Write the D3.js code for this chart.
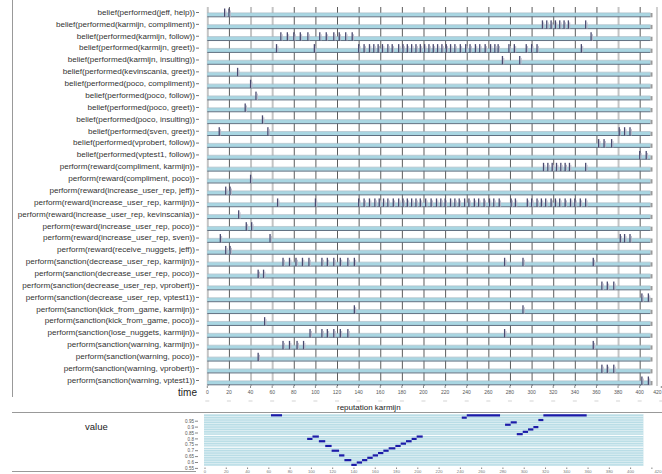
<!DOCTYPE html>
<html><head><meta charset="utf-8">
<script src="https://cdn.jsdelivr.net/npm/d3@7"></script>
<style>body{margin:0;background:#fff}svg{display:block;font-family:"Liberation Sans",Arial,sans-serif}</style>
</head><body>
<script>
const rowLabels = [
 "belief(performed(jeff, help))","belief(performed(karmijn, compliment))","belief(performed(karmijn, follow))",
 "belief(performed(karmijn, greet))","belief(performed(karmijn, insulting))","belief(performed(kevinscania, greet))",
 "belief(performed(poco, compliment))","belief(performed(poco, follow))","belief(performed(poco, greet))",
 "belief(performed(poco, insulting))","belief(performed(sven, greet))","belief(performed(vprobert, follow))",
 "belief(performed(vptest1, follow))","perform(reward(compliment, karmijn))","perform(reward(compliment, poco))",
 "perform(reward(increase_user_rep, jeff))","perform(reward(increase_user_rep, karmijn))",
 "perform(reward(increase_user_rep, kevinscania))","perform(reward(increase_user_rep, poco))",
 "perform(reward(increase_user_rep, sven))","perform(reward(receive_nuggets, jeff))",
 "perform(sanction(decrease_user_rep, karmijn))","perform(sanction(decrease_user_rep, poco))",
 "perform(sanction(decrease_user_rep, vprobert))","perform(sanction(decrease_user_rep, vptest1))",
 "perform(sanction(kick_from_game, karmijn))","perform(sanction(kick_from_game, poco))",
 "perform(sanction(lose_nuggets, karmijn))","perform(sanction(warning, karmijn))",
 "perform(sanction(warning, poco))","perform(sanction(warning, vprobert))","perform(sanction(warning, vptest1))"
];
const rowEvents = [
 [16,20],
 [310,314,318,322,326,330,334,350],
 [68,74,80,86,93,104,110,117,122,128,134,355],
 [64,99,140,145,150,154,158,162,167,171,177,181,185,189,193,197,201,205,209,213,217,221,225,229,234,239,243,248,252,257,262,266,269,279,284,295,300,305,346],
 [273,289],
 [28],
 [40],
 [45],
 [35],
 [51],
 [11,56,381,386,391],
 [362,367,374],
 [400,406],
 [311,315,319,323,327,331,335,350],
 [40],
 [17,21],
 [65,100,140,145,150,155,159,163,167,172,177,181,185,189,193,197,202,207,212,216,220,225,229,233,238,242,247,251,256,261,265,270,281,285,296,300,305,309,313,318,322,326,331,336,340,345,350],
 [29],
 [36,41],
 [12,58,382,386,391],
 [17,21],
 [70,76,82,88,94,106,111,117,123,130,136,275,292,357],
 [47,52],
 [365,370,376],
 [402,408],
 [136,292],
 [53],
 [95,106,111,117,123,130,275],
 [70,76,83,89,357],
 [47],
 [365,370,376],
 [402,408]
];
const timeTicks = d3.range(0, 421, 20);
const repStart = [62,96,101,107,113,119,126,131,137.5,142.6,147.6,152.5,157.6,162.6,167.6,172.6,178.9,183.9,188.9,194.2,198.9,241.3,246,282,287.3,293,298.6,303.6,308.6,313.3,318];
const repEnd   = [72.4,101,107,113,119,126,131,137.5,142.6,147.6,152.5,157.6,162.6,167.6,172.6,178.9,183.9,188.9,194.2,198.9,204.6,246,277.3,287.3,293,298.6,303.6,308.6,313.3,318,358.7];
const repValue = [1.0,0.80,0.82,0.78,0.74,0.70,0.66,0.62,0.58,0.60,0.62,0.64,0.66,0.68,0.70,0.72,0.74,0.76,0.78,0.80,0.82,0.98,1.0,0.92,0.94,0.84,0.86,0.88,0.90,0.96,1.0];
const repTicks = [0.95,0.9,0.85,0.8,0.75,0.7,0.65,0.6,0.55];

const W = 662, H = 474;
const svg = d3.select("body").append("svg").attr("width", W).attr("height", H);

// ---------- top timeline ----------
const x = d3.scaleLinear().domain([0, 420]).range([207.3, 661.3]);
const y = d3.scalePoint().domain(rowLabels).range([12, 380]);
const gTop = svg.append("g");

svg.append("line").attr("x1", 12.5).attr("x2", 12.5).attr("y1", 0).attr("y2", 397).attr("stroke", "#999");

const lightLines = new Set([0, 40, 60, 380]);
gTop.selectAll("line.vg").data(timeTicks.filter(d => d <= 400)).join("line")
  .attr("class", "vg")
  .attr("x1", d => x(d) + 0.5).attr("x2", d => x(d) + 0.5)
  .attr("y1", 7).attr("y2", 386)
  .attr("stroke", d => lightLines.has(d) ? "#c4c4c4" : "#5c5c5c")
  .attr("stroke-width", d => lightLines.has(d) ? 2 : 1);
gTop.append("line").attr("x1", x(416)).attr("x2", x(416)).attr("y1", 7).attr("y2", 386)
  .attr("stroke", "#d0d0d0").attr("stroke-width", 2);

const rows = gTop.selectAll("g.row").data(rowLabels).join("g").attr("class", "row")
  .attr("transform", d => `translate(0,${y(d)})`);
rows.append("rect").attr("x", x(0)).attr("y", 1).attr("width", x(410) - x(0)).attr("height", 3.5)
  .attr("fill", "#a9d6e2");
rows.append("line").attr("x1", x(0)).attr("x2", x(410)).attr("y1", 0.8).attr("y2", 0.8)
  .attr("stroke", "#9fb3c0").attr("stroke-width", 0.6);
rows.append("line").attr("x1", x(0)).attr("x2", x(410)).attr("y1", 4.8).attr("y2", 4.8)
  .attr("stroke", "#5f6f80").attr("stroke-width", 1);
rows.append("rect").attr("x", x(410)).attr("y", 1).attr("width", 2).attr("height", 4.3).attr("fill", "#9a9a9a");

rows.append("text").attr("x", 195).attr("y", 0).attr("dy", "0.35em").attr("text-anchor", "end")
  .attr("font-size", 8.1).attr("fill", "#333").text(d => d);
rows.append("line").attr("x1", 196).attr("x2", 199).attr("y1", 0.5).attr("y2", 0.5).attr("stroke", "#777");

rows.each(function(label, i) {
  const g = d3.select(this);
  g.selectAll("rect.ev").data(rowEvents[i]).join("rect").attr("class", "ev")
    .attr("x", d => x(d) - 0.6).attr("y", -3.5).attr("width", 1.3).attr("height", 8.3)
    .attr("fill", "#4a4a70");
  g.selectAll("line.ev2").data(rowEvents[i]).join("line").attr("class", "ev2")
    .attr("x1", d => x(d) + 1.4).attr("x2", d => x(d) + 1.4).attr("y1", -1.5).attr("y2", 4.8)
    .attr("stroke", "#b8b8c8").attr("stroke-width", 1);
});

svg.append("text").attr("x", 197).attr("y", 392).attr("dy", "0.35em").attr("text-anchor", "end")
  .attr("font-size", 10).attr("fill", "#222").text("time");
const axisT = svg.append("g").attr("transform", "translate(0,386)");
axisT.selectAll("line").data(timeTicks).join("line")
  .attr("x1", d => x(d)).attr("x2", d => x(d)).attr("y1", 0).attr("y2", 2).attr("stroke", "#888");
axisT.selectAll("text").data(timeTicks).join("text")
  .attr("x", d => d === 420 ? 661.5 : x(d)).attr("y", 6).attr("dy", "0.35em")
  .attr("text-anchor", d => d === 420 ? "end" : "middle")
  .attr("font-size", 5).attr("fill", "#555").text(d => d);
axisT.selectAll("line.dash").data(timeTicks).join("line").attr("class", "dash")
  .attr("x1", d => x(d) - 2).attr("x2", d => x(d) + 2).attr("y1", 15).attr("y2", 15)
  .attr("stroke", "#c8c8c8").attr("stroke-width", 0.8);

// ---------- bottom reputation panel ----------
svg.append("text").attr("x", 337).attr("y", 407.5).attr("dy", "0.35em")
  .attr("font-size", 8).attr("fill", "#222").text("reputation karmijn");
svg.append("line").attr("x1", 12).attr("x2", 662).attr("y1", 412.5).attr("y2", 412.5).attr("stroke", "#999");
svg.append("line").attr("x1", 12).attr("x2", 196).attr("y1", 471.5).attr("y2", 471.5).attr("stroke", "#999");
svg.append("text").attr("x", 85).attr("y", 427).attr("dy", "0.35em")
  .attr("font-size", 9.5).attr("fill", "#222").text("value");

const xb = d3.scaleLinear().domain([0, 420]).range([205, 651.9]);
const yb = d3.scaleLinear().domain([0.55, 1.0]).range([468.4, 415.3]);

svg.append("rect").attr("x", xb(0) - 1).attr("y", 414).attr("width", xb(412) - xb(0) + 1).attr("height", 52)
  .attr("fill", "#b9dde6");
const stripeVals = d3.range(0, 23).map(k => 1.01 - k * 0.02);
svg.selectAll("line.stripe").data(stripeVals).join("line").attr("class", "stripe")
  .attr("x1", xb(0) - 1).attr("x2", xb(412)).attr("y1", d => yb(d)).attr("y2", d => yb(d))
  .attr("stroke", "#ffffff").attr("stroke-opacity", 0.75).attr("stroke-width", 0.7);
svg.selectAll("line.stripe2").data([0.83, 0.73]).join("line").attr("class", "stripe2")
  .attr("x1", xb(0) - 1).attr("x2", xb(412)).attr("y1", d => yb(d)).attr("y2", d => yb(d))
  .attr("stroke", "#ffffff").attr("stroke-width", 1);

const ayb = svg.append("g");
ayb.selectAll("text").data(repTicks).join("text")
  .attr("x", 194).attr("y", d => yb(d)).attr("dy", "0.35em").attr("text-anchor", "end")
  .attr("font-size", 4.6).attr("fill", "#555").text(d => d);
ayb.selectAll("line").data(repTicks).join("line")
  .attr("x1", 195).attr("x2", 198).attr("y1", d => yb(d)).attr("y2", d => yb(d)).attr("stroke", "#888");

svg.selectAll("line.seg").data(repValue).join("line").attr("class", "seg")
  .attr("x1", (d, i) => xb(repStart[i])).attr("x2", (d, i) => xb(repEnd[i]))
  .attr("y1", d => yb(d)).attr("y2", d => yb(d))
  .attr("stroke", "#1a1aa8").attr("stroke-width", 2.2);

const axB = svg.append("g").attr("transform", "translate(0,467.5)");
axB.selectAll("line").data(timeTicks).join("line")
  .attr("x1", d => xb(d)).attr("x2", d => xb(d)).attr("y1", 0).attr("y2", 1.5).attr("stroke", "#888");
axB.selectAll("text").data(timeTicks).join("text")
  .attr("x", d => d === 420 ? 661.5 : xb(d)).attr("y", 3.8).attr("dy", "0.35em")
  .attr("text-anchor", d => d === 420 ? "end" : "middle")
  .attr("font-size", 4.2).attr("fill", "#777").text(d => d);
</script>
</body></html>
